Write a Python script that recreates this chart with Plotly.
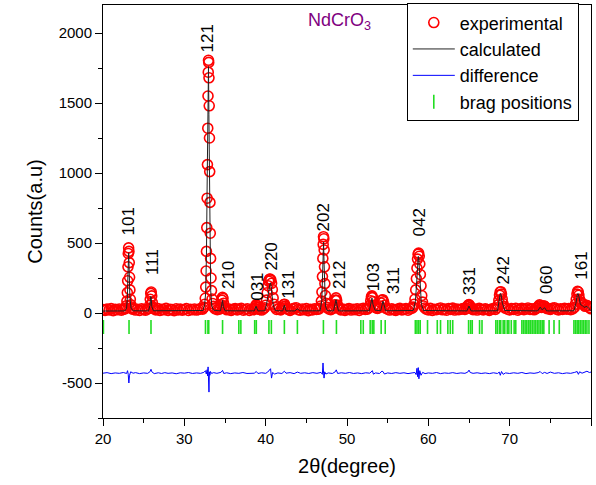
import plotly.graph_objects as go

# ---------------- data ----------------
exp_two_theta = [
    20.0, 20.25, 20.5, 20.75, 21.0, 21.25, 21.5, 21.75, 22.0, 22.25, 22.5,
    22.7, 22.8, 22.88, 22.94, 22.99, 23.03, 23.07, 23.11, 23.15, 23.19, 23.23, 23.27, 23.31, 23.36, 23.43, 23.52, 23.62,
    23.75, 24.0, 24.25, 24.5, 24.75, 25.0, 25.25, 25.5,
    25.65, 25.74, 25.81, 25.87, 25.93, 25.99, 26.06, 26.16, 26.3,
    26.5, 26.75, 27.0, 27.25, 27.5, 27.75, 28.0, 28.25, 28.5, 28.75, 29.0, 29.25, 29.5, 29.75, 30.0, 30.25, 30.5, 30.75,
    31.0, 31.25, 31.5, 31.75, 32.0, 32.25,
    32.4, 32.5, 32.57, 32.63, 32.68, 32.72, 32.76, 32.8, 32.84, 32.88, 32.91, 32.94, 32.97, 33.0, 33.03, 33.06, 33.09,
    33.12, 33.15, 33.19, 33.23, 33.28, 33.34, 33.41, 33.49, 33.58, 33.68,
    33.8, 34.05, 34.3,
    34.45, 34.56, 34.63, 34.69, 34.75, 34.82, 34.9, 35.02,
    35.25, 35.5, 35.75, 36.0, 36.25, 36.5, 36.75, 37.0, 37.25, 37.5, 37.75, 38.0, 38.25, 38.5,
    38.65, 38.74, 38.82, 38.89, 38.97, 39.08,
    39.25, 39.5, 39.72,
    39.88, 40.0, 40.1, 40.19, 40.28, 40.37, 40.46, 40.55, 40.64, 40.73, 40.82, 40.92, 41.03, 41.17,
    41.35, 41.6, 41.85,
    42.05, 42.15, 42.24, 42.32, 42.41, 42.55,
    42.75, 43.0, 43.25, 43.5, 43.75, 44.0, 44.25, 44.5, 44.75, 45.0, 45.25, 45.5, 45.75, 46.0, 46.25, 46.5,
    46.65, 46.76, 46.85, 46.92, 46.98, 47.03, 47.07, 47.11, 47.15, 47.19, 47.23, 47.28, 47.34, 47.42, 47.55,
    47.75, 48.0, 48.22,
    48.38, 48.48, 48.57, 48.65, 48.73, 48.83, 48.97,
    49.25, 49.5, 49.75, 50.0, 50.25, 50.5, 50.75, 51.0, 51.25, 51.5, 51.75, 52.0, 52.25, 52.5,
    52.7, 52.82, 52.92, 53.0, 53.07, 53.14, 53.22, 53.32, 53.45, 53.6, 53.75, 53.9, 54.05, 54.18, 54.3, 54.4, 54.5,
    54.62, 54.76,
    55.0, 55.25, 55.5, 55.75, 56.0, 56.25, 56.5, 56.75, 57.0, 57.25, 57.5, 57.75, 58.0,
    58.12, 58.25, 58.36, 58.45, 58.53, 58.6, 58.67, 58.74, 58.81, 58.88, 58.95, 59.02, 59.1, 59.19, 59.29, 59.41, 59.56,
    59.75, 60.0, 60.25, 60.5, 60.75, 61.0, 61.25, 61.5, 61.75, 62.0, 62.25, 62.5, 62.75, 63.0, 63.25, 63.5, 63.75,
    64.0, 64.25, 64.5,
    64.7, 64.82, 64.92, 65.0, 65.09, 65.2, 65.35,
    65.5, 65.75, 66.0, 66.25, 66.5, 66.75, 67.0, 67.25, 67.5, 67.75, 68.0, 68.25,
    68.45, 68.57, 68.67, 68.75, 68.83, 68.91, 68.99, 69.08, 69.18, 69.3, 69.45,
    69.75, 70.0, 70.25, 70.5, 70.75, 71.0, 71.25, 71.5, 71.75, 72.0, 72.25, 72.5, 72.75, 73.0, 73.25,
    73.4, 73.55, 73.68, 73.8, 73.92, 74.06, 74.2, 74.34, 74.5, 74.7,
    75.0, 75.25, 75.5, 75.75, 76.0, 76.25, 76.5, 76.75, 77.0, 77.25, 77.5, 77.75,
    77.95, 78.08, 78.18, 78.27, 78.35, 78.43, 78.51, 78.6, 78.7, 78.82, 78.95, 79.1, 79.28, 79.45,
    79.6, 79.8, 80.0,
]
exp_counts = [
    24, 19, 28, 22, 31, 17, 26, 23, 29, 20, 25,
    30, 36, 52, 85, 145, 230, 330, 425, 465, 440, 360, 255, 165, 98, 58, 38, 27,
    33, 21, 27, 18, 30, 24, 20, 29,
    34, 55, 98, 140, 150, 122, 75, 42, 30,
    22, 31, 18, 26, 23, 33, 19, 27, 24, 16, 30, 22, 28, 20, 25, 32, 18, 27,
    23, 29, 21, 26, 31, 28,
    40, 62, 105, 185, 300, 440, 610, 820, 1060, 1320, 1550, 1720, 1805, 1790, 1680, 1480, 1250,
    1010, 790, 570, 390, 250, 160, 100, 68, 48, 36,
    30, 24, 28,
    35, 58, 92, 112, 104, 70, 44, 31,
    23, 29, 19, 26, 31, 22, 28, 34, 20, 25, 30, 18, 27, 24,
    33, 46, 58, 55, 42, 29,
    26, 21, 30,
    38, 55, 92, 145, 195, 228, 240, 243, 236, 212, 168, 108, 62, 40,
    25, 30, 22,
    31, 45, 60, 63, 47, 32,
    26, 19, 28, 33, 38, 24, 20, 29, 23, 31, 17, 26, 22, 30, 25, 28,
    34, 50, 85, 150, 260, 390, 490, 545, 530, 450, 330, 210, 125, 70, 40,
    29, 24, 31,
    36, 58, 92, 108, 90, 56, 35,
    22, 28, 19, 26, 32, 21, 27, 24, 30, 18, 29, 33, 25, 28,
    38, 55, 88, 115, 122, 110, 82, 55, 42, 36, 32, 38, 50, 72, 92, 95, 80,
    55, 34,
    27, 21, 30, 24, 19, 28, 33, 22, 26, 31, 20, 29, 34,
    42, 62, 100, 165, 245, 320, 385, 420, 428, 405, 350, 275, 195, 125, 78, 50, 36,
    28, 22, 33, 19, 27, 24, 30, 36, 23, 28, 20, 32, 26, 35, 21, 29, 24,
    27, 31, 26,
    34, 46, 56, 60, 52, 40, 31,
    24, 29, 21, 33, 27, 22, 30, 25, 19, 28, 32, 26,
    38, 58, 92, 128, 150, 152, 135, 100, 68, 46, 34,
    27, 22, 31, 25, 34, 20, 28, 33, 24, 29, 36, 26, 30, 23, 31,
    38, 50, 58, 50, 40, 45, 52, 46, 35, 30,
    26, 33, 38, 28, 22, 30, 25, 34, 27, 31, 24, 29,
    40, 62, 98, 135, 155, 150, 128, 98, 78, 72, 68, 58, 48, 55,
    50, 38, 30,
]

calc_two_theta = [
    20.0, 22.7, 22.9, 23.0, 23.06, 23.12, 23.16, 23.22, 23.3, 23.45, 23.7,
    25.6, 25.78, 25.86, 25.92, 26.0, 26.2,
    32.3, 32.5, 32.62, 32.72, 32.8, 32.87, 32.93, 32.97, 33.02, 33.08, 33.15, 33.24, 33.38, 33.6,
    34.45, 34.6, 34.7, 34.8, 35.0,
    38.6, 38.82, 39.05,
    39.9, 40.1, 40.3, 40.42, 40.52, 40.6, 40.68, 40.8, 40.95, 41.2,
    42.1, 42.3, 42.5, 43.6, 43.9, 44.2,
    46.7, 46.9, 47.0, 47.06, 47.12, 47.18, 47.25, 47.35, 47.55,
    48.35, 48.55, 48.65, 48.78, 48.95,
    52.75, 52.95, 53.07, 53.2, 53.45, 54.15, 54.3, 54.42, 54.55, 54.75,
    58.15, 58.4, 58.55, 58.68, 58.76, 58.82, 58.9, 59.0, 59.15, 59.4,
    64.75, 65.0, 65.25,
    68.5, 68.7, 68.85, 68.95, 69.1, 69.4,
    73.45, 73.75, 74.0, 74.3, 74.55,
    77.9, 78.15, 78.3, 78.4, 78.52, 78.7, 78.9, 79.15, 79.5, 79.75, 80.0,
]
calc_counts = [
    14, 15, 35, 110, 260, 410, 430, 300, 120, 35, 16,
    15, 55, 118, 115, 45, 16,
    18, 60, 140, 420, 900, 1400, 1740, 1760, 1420, 880, 420, 160, 50, 20,
    15, 55, 90, 45, 16,
    15, 48, 15,
    16, 60, 140, 190, 205, 215, 190, 120, 50, 17,
    15, 55, 15, 15, 30, 15,
    16, 90, 280, 470, 505, 360, 150, 50, 17,
    15, 70, 95, 55, 15,
    16, 80, 108, 60, 20, 16, 55, 85, 60, 16,
    18, 80, 200, 360, 405, 395, 300, 160, 60, 18,
    15, 50, 15,
    16, 75, 140, 130, 70, 18,
    15, 42, 22, 38, 15,
    16, 70, 125, 140, 115, 60, 55, 40, 48, 30, 16,
]

diff_two_theta = [
    20.0, 20.5, 21.0, 21.5, 22.0, 22.5, 22.9, 23.02, 23.1, 23.18, 23.26, 23.4, 23.7, 24.0, 24.5, 25.0, 25.5,
    25.8, 25.9, 26.0, 26.3, 26.8, 27.2, 27.6, 28.0, 28.5, 29.0, 29.5, 30.0, 30.5, 31.0, 31.5, 32.0, 32.4,
    32.6, 32.7, 32.8, 32.86, 32.92, 32.98, 33.03, 33.08, 33.14, 33.22, 33.35, 33.6, 34.0, 34.5, 34.7, 34.85,
    35.2, 35.7, 36.2, 36.7, 37.2, 37.7, 38.2, 38.6, 38.85, 39.05, 39.5, 40.0, 40.25, 40.45, 40.6, 40.72,
    40.85, 41.1, 41.5, 42.0, 42.3, 42.5, 43.0, 43.5, 43.9, 44.3, 44.8, 45.3, 45.8, 46.3, 46.8, 46.97,
    47.05, 47.12, 47.18, 47.26, 47.4, 47.7, 48.2, 48.55, 48.68, 48.85, 49.3, 49.8, 50.3, 50.8, 51.3, 51.8,
    52.3, 52.8, 53.0, 53.12, 53.25, 53.5, 54.0, 54.3, 54.45, 54.6, 55.0, 55.5, 56.0, 56.5, 57.0, 57.5,
    58.0, 58.35, 58.5, 58.6, 58.68, 58.76, 58.84, 58.95, 59.1, 59.3, 59.6, 60.0, 60.5, 61.0, 61.5, 62.0,
    62.5, 63.0, 63.5, 64.0, 64.5, 64.85, 65.0, 65.15, 65.5, 66.0, 66.5, 67.0, 67.5, 68.0, 68.5, 68.72,
    68.85, 69.0, 69.2, 69.5, 70.0, 70.5, 71.0, 71.5, 72.0, 72.5, 73.0, 73.5, 73.75, 74.0, 74.3, 74.6,
    75.0, 75.5, 76.0, 76.5, 77.0, 77.5, 78.0, 78.3, 78.45, 78.6, 78.9, 79.2, 79.5, 79.8, 80.0,
]
diff_counts = [
    -430, -426, -433, -428, -431, -425, -432, -412, -438, -500, -445, -420, -430, -426, -433, -428, -431,
    -418, -402, -420, -433, -427, -432, -426, -431, -428, -434, -427, -430, -425, -432, -428, -431, -424,
    -412, -436, -405, -450, -385, -470, -565, -420, -445, -418, -432, -426, -431, -424, -410, -432,
    -427, -433, -428, -431, -425, -432, -428, -430, -418, -432, -427, -431, -422, -412, -398, -465,
    -425, -436, -428, -432, -416, -430, -426, -433, -422, -431, -427, -432, -426, -431, -424, -438,
    -357, -430, -465, -420, -436, -428, -432, -420, -406, -432, -427, -431, -425, -432, -428, -433,
    -427, -430, -418, -412, -437, -428, -432, -415, -420, -436, -428, -432, -426, -431, -427, -433,
    -428, -425, -440, -395, -455, -390, -470, -412, -445, -424, -433, -428, -431, -425, -433, -428,
    -431, -426, -432, -428, -431, -422, -408, -425, -431, -427, -432, -428, -433, -427, -432, -422,
    -445, -418, -438, -428, -432, -427, -431, -425, -433, -428, -431, -426, -418, -433, -424, -432,
    -422, -431, -427, -433, -428, -431, -424, -418, -438, -420, -430, -421, -416, -425, -422,
]

bragg_two_theta = [
    20.05, 23.2, 25.9, 32.6, 32.9, 33.0, 34.7, 36.7, 36.95, 38.65, 38.85, 40.4, 40.7, 42.3, 43.9,
    47.1, 48.7, 51.7, 52.0, 52.85, 53.1, 53.3, 54.2, 54.7, 58.4, 58.6, 58.8, 59.0, 59.9, 61.1, 61.5,
    62.4, 62.7, 63.0, 64.95, 65.2, 65.4, 66.3, 66.6, 68.3, 68.5, 68.75, 68.9, 69.2, 69.4, 69.7, 69.9,
    70.2, 70.55, 70.75, 71.5, 71.7, 71.9, 72.1, 72.3, 72.5, 72.6, 72.8, 73.0, 73.2, 73.4, 73.6, 73.8,
    74.0, 74.2, 74.85, 75.45, 76.1, 77.9, 78.1, 78.3, 78.5, 78.7, 78.9, 79.1, 79.3, 79.5, 79.75,
]
bragg_level = -100

hkl_labels = ["101", "111", "121", "210", "031", "220", "131", "202", "212",
              "103", "311", "042", "331", "242", "060", "161"]
hkl_two_theta = [23.1, 26.15, 32.9, 35.35, 38.9, 40.6, 42.7, 47.1, 49.1,
                 53.2, 55.7, 58.95, 65.1, 69.2, 74.45, 78.8]
hkl_counts = [655, 365, 1960, 270, 185, 400, 200, 685, 270,
              255, 230, 645, 225, 305, 235, 340]

y_tick_values = [-500, 0, 500, 1000, 1500, 2000]
y_tick_text = ["-500", "0", "500", "1000", "1500", "2000"]

assert len(exp_two_theta) == len(exp_counts)
assert len(calc_two_theta) == len(calc_counts)
assert len(diff_two_theta) == len(diff_counts)
assert len(hkl_labels) == len(hkl_two_theta) == len(hkl_counts)

FONT = "Liberation Sans, Arial, sans-serif"

fig = go.Figure()
fig.add_trace(go.Scatter(
    x=exp_two_theta, y=exp_counts, mode="markers", name="experimental",
    marker=dict(symbol="circle-open", size=10, color="red", line=dict(width=1.6, color="red")),
))
fig.add_trace(go.Scatter(
    x=calc_two_theta, y=calc_counts, mode="lines", name="calculated",
    line=dict(color="#222222", width=1),
))
fig.add_trace(go.Scatter(
    x=diff_two_theta, y=diff_counts, mode="lines", name="difference",
    line=dict(color="#0000ff", width=1),
))
fig.add_trace(go.Scatter(
    x=bragg_two_theta, y=[bragg_level] * len(bragg_two_theta), mode="markers", name="brag positions",
    marker=dict(symbol="line-ns", size=10, color="#22dd22", line=dict(width=1.6, color="#22dd22")),
))

for lab, xx, yy in zip(hkl_labels, hkl_two_theta, hkl_counts):
    fig.add_annotation(x=xx, y=yy, text=lab, textangle=-90, showarrow=False,
                       font=dict(family=FONT, size=17, color="black"))

fig.add_annotation(x=49.1, y=2079, text="NdCrO<sub>3</sub>", showarrow=False,
                   font=dict(family=FONT, size=18, color="#800080"))

axis_common = dict(
    showline=True, linecolor="black", linewidth=1, mirror=True,
    ticks="outside", ticklen=7, tickwidth=1, tickcolor="black",
    showgrid=False, zeroline=False,
    tickfont=dict(family=FONT, size=15, color="black"),
)

fig.update_xaxes(
    range=[20, 80], dtick=10, tick0=20,
    minor=dict(ticks="outside", ticklen=4, dtick=5, tickcolor="black", showgrid=False),
    title=dict(text="2θ(degree)", font=dict(family=FONT, size=20, color="black"), standoff=12),
    **axis_common,
)
fig.update_yaxes(
    range=[-750, 2200], tickmode="array", tickvals=y_tick_values, ticktext=y_tick_text,
    minor=dict(ticks="outside", ticklen=4, dtick=250, tick0=0, tickcolor="black", showgrid=False),
    title=dict(text="Counts(a.u)", font=dict(family=FONT, size=20, color="black"), standoff=10),
    **axis_common,
)

fig.update_layout(
    width=596, height=485,
    margin=dict(l=103, r=5, t=5, b=67, autoexpand=False),
    plot_bgcolor="white", paper_bgcolor="white",
    font=dict(family=FONT, color="black"),
    legend=dict(
        x=0.975, y=1.004, xanchor="right", yanchor="top",
        bgcolor="white", bordercolor="black", borderwidth=1,
        font=dict(family=FONT, size=18, color="black"),
        tracegroupgap=0, itemwidth=42,
    ),
    showlegend=True,
)

fig.write_html("out.html", config={"displayModeBar": False},
               post_script="document.body.style.margin='0';document.body.style.overflow='hidden';")
